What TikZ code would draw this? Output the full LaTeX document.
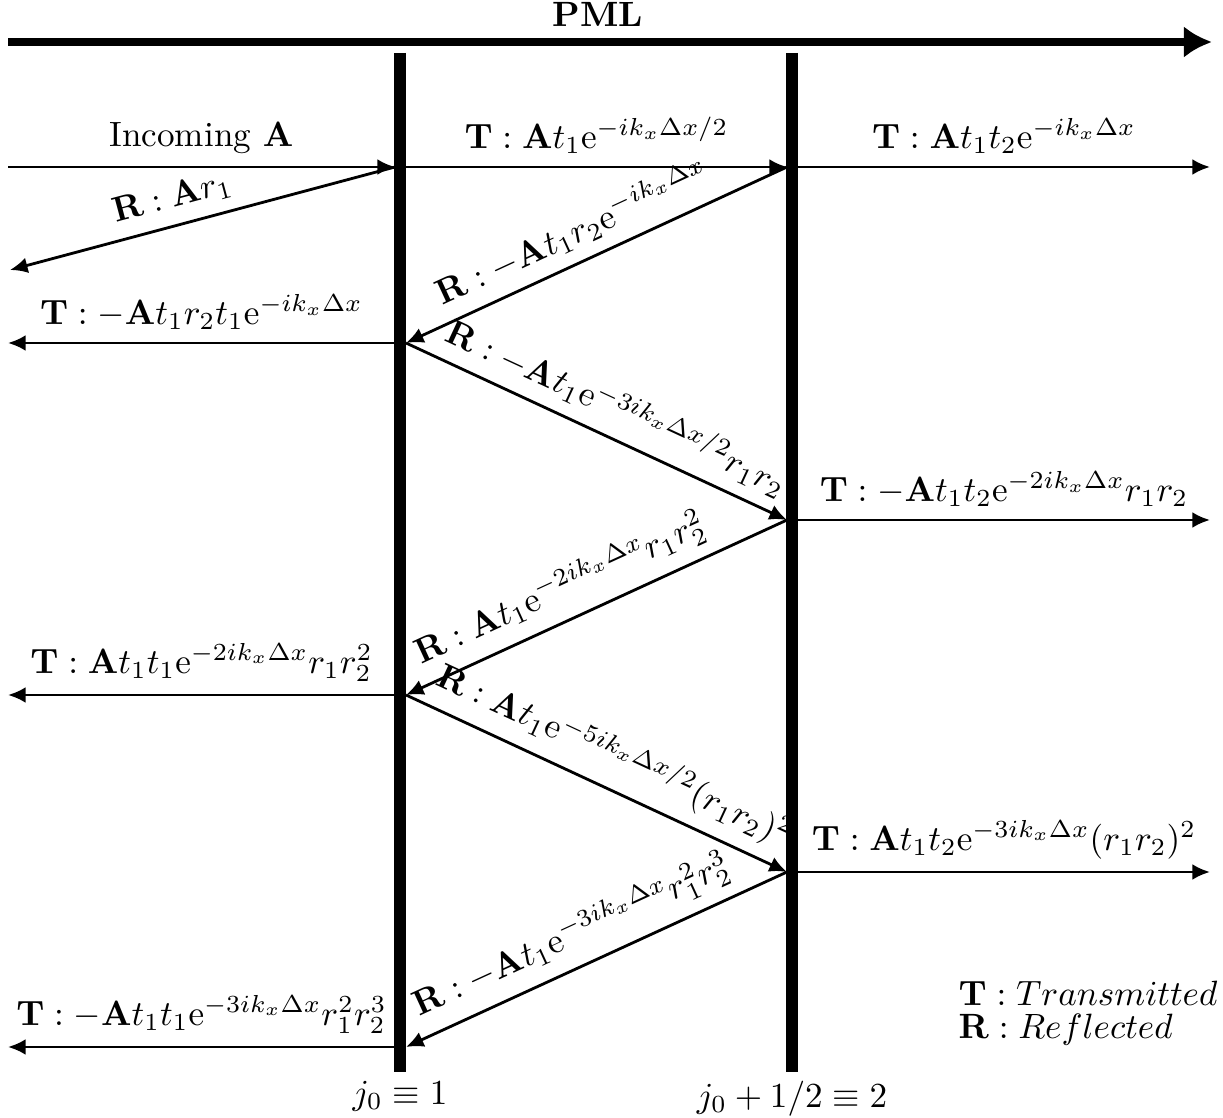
\documentclass[tikz,border=0pt]{standalone}
\usetikzlibrary{arrows.meta}

\tikzset{
  wall/.style={line width=3.2pt},
  ray/.style={thick,-{Latex[length=5pt,width=4.5pt]}},
  lbl/.style={above,sloped},
}

\begin{document}
\begin{tikzpicture}
    \useasboundingbox (0,0) rectangle (12.23,-11.18);
    % PML direction
    \coordinate (pmlL) at (0.08,-0.42);
    \coordinate (pmlR) at (12.12,-0.42);
    \draw[line width=2pt,-{Latex[length=8pt,width=9pt]}] (pmlL) -- (pmlR) node[pos=0.49,above] (pml) {\textbf{PML}};

    % the two interfaces
    \draw[wall] (4,-0.53) -- (4,-10.72) node[below,inner sep=1pt] (j1) {$j_0\equiv 1$};
    \draw[wall] (7.92,-0.53) -- (7.92,-10.72) node[below,inner sep=1pt] (j2) {$j_0+1/2\equiv 2$};

    % hit points (faces of the walls)
    \coordinate (in)  at (0.08,-1.67);
    \coordinate (a0)  at (3.95,-1.67);
    \coordinate (b0)  at (4.06,-1.67);
    \coordinate (c0)  at (7.87,-1.67);
    \coordinate (d0)  at (7.98,-1.67);
    \coordinate (out0) at (12.10,-1.67);
    \coordinate (back0) at (0.10,-2.70);
    \coordinate (a1)  at (3.95,-3.43);
    \coordinate (b1)  at (4.06,-3.43);
    \coordinate (out1) at (0.08,-3.43);
    \coordinate (c2)  at (7.87,-5.20);
    \coordinate (d2)  at (7.98,-5.20);
    \coordinate (out2) at (12.10,-5.20);
    \coordinate (a3)  at (3.95,-6.95);
    \coordinate (b3)  at (4.06,-6.95);
    \coordinate (out3) at (0.08,-6.95);
    \coordinate (c4)  at (7.87,-8.72);
    \coordinate (d4)  at (7.98,-8.72);
    \coordinate (out4) at (12.10,-8.72);
    \coordinate (a5)  at (3.95,-10.47);
    \coordinate (b5)  at (4.06,-10.47);
    \coordinate (out5) at (0.08,-10.47);

    % rays
    \draw[ray] (in) -- (a0) node[midway,above] (inc) {Incoming $\mathbf{A}$};
    \draw[ray] (a0) -- (back0) node[lbl,pos=0.56] (r0) {$\mathbf{R}:\mathbf{A}r_1$};
    \draw[ray] (b0) -- (c0) node[midway,above] (t0) {$\mathbf{T}:\mathbf{A}t_1\mathrm{e}^{-ik_x\Delta x/2}$};
    \draw[ray] (d0) -- (out0) node[midway,above] (t1) {$\mathbf{T}:\mathbf{A}t_1t_2\mathrm{e}^{-ik_x\Delta x}$};
    \draw[ray] (c0) -- (b1) node[lbl,pos=0.53] (r1) {$\mathbf{R}:-\mathbf{A}t_1r_2\mathrm{e}^{-ik_x\Delta x}$};
    \draw[ray] (a1) -- (out1) node[midway,above] (t2) {$\mathbf{T}:-\mathbf{A}t_1r_2t_1\mathrm{e}^{-ik_x\Delta x}$};
    \draw[ray] (b1) -- (c2) node[lbl,pos=0.52] (r2) {$\mathbf{R}:-\mathbf{A}t_1\mathrm{e}^{-3ik_x\Delta x/2}r_1r_2$};
    \draw[ray] (d2) -- (out2) node[midway,above] (t3) {$\mathbf{T}:-\mathbf{A}t_1t_2\mathrm{e}^{-2ik_x\Delta x}r_1r_2$};
    \draw[ray] (c2) -- (b3) node[lbl,pos=0.56] (r3) {$\mathbf{R}:\mathbf{A}t_1\mathrm{e}^{-2ik_x\Delta x}r_1r_2^2$};
    \draw[ray] (a3) -- (out3) node[midway,above] (t4) {$\mathbf{T}:\mathbf{A}t_1t_1\mathrm{e}^{-2ik_x\Delta x}r_1r_2^2$};
    \draw[ray] (b3) -- (c4) node[lbl,pos=0.51] (r4) {$\mathbf{R}:\mathbf{A}t_1\mathrm{e}^{-5ik_x\Delta x/2}(r_1r_2)^2$};
    \draw[ray] (d4) -- (out4) node[midway,above] (t5) {$\mathbf{T}:\mathbf{A}t_1t_2\mathrm{e}^{-3ik_x\Delta x}(r_1r_2)^2$};
    \draw[ray] (c4) -- (b5) node[lbl,pos=0.53] (r5) {$\mathbf{R}:-\mathbf{A}t_1\mathrm{e}^{-3ik_x\Delta x}r_1^2r_2^3$};
    \draw[ray] (a5) -- (out5) node[midway,above] (t6) {$\mathbf{T}:-\mathbf{A}t_1t_1\mathrm{e}^{-3ik_x\Delta x}r_1^2r_2^3$};

    % legend
    \node[anchor=north west,align=left,inner sep=0pt] (key) at (9.58,-9.80) {$\mathbf{T}:Transmitted$\\[-2.4pt]$\mathbf{R}:Reflected$};
\end{tikzpicture}
\end{document}
